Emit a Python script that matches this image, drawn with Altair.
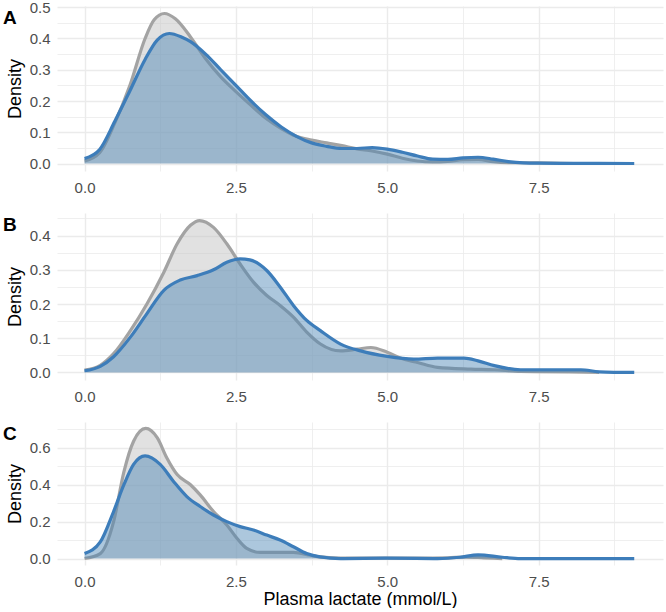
import altair as alt
import pandas as pd

X_LABEL = "Plasma lactate (mmol/L)"
Y_LABEL = "Density"
PANEL_LETTERS = ["A", "B", "C"]

X_TICKS = [0, 1.25, 2.5, 3.75, 5.0, 6.25, 7.5, 8.75]
X_DOMAIN = [-0.455, 9.555]

# Panel A
A_GRAY_X = [0, 0.25, 0.5, 0.75, 1.0, 1.15, 1.32, 1.5, 1.75, 2.0, 2.25, 2.5, 2.75, 3.0, 3.25, 3.5, 3.75, 4.0,
            4.25, 4.5, 4.75, 5.0, 5.25, 5.5, 5.75, 6.0, 6.25, 6.5, 6.75, 7.0, 7.5, 8.1]
A_GRAY_Y = [0.008, 0.035, 0.13, 0.25, 0.40, 0.46, 0.48, 0.463, 0.405, 0.335, 0.277, 0.23, 0.186, 0.144, 0.112,
            0.087, 0.075, 0.066, 0.057, 0.047, 0.04, 0.03, 0.017, 0.008, 0.005, 0.007, 0.012, 0.013, 0.006,
            0.003, 0.002, 0.0]
A_BLUE_X = [0, 0.25, 0.5, 0.75, 1.0, 1.2, 1.4, 1.6, 1.75, 2.0, 2.25, 2.5, 2.75, 3.0, 3.25, 3.5, 3.75, 4.0,
            4.25, 4.5, 4.75, 5.0, 5.25, 5.5, 5.75, 6.0, 6.25, 6.5, 6.75, 7.0, 7.25, 7.5, 8.0, 9.08]
A_BLUE_Y = [0.016, 0.045, 0.135, 0.233, 0.333, 0.395, 0.416, 0.405, 0.39, 0.35, 0.30, 0.25, 0.20, 0.155, 0.117,
            0.087, 0.066, 0.055, 0.048, 0.048, 0.051, 0.046, 0.036, 0.024, 0.014, 0.013, 0.018, 0.02, 0.014,
            0.006, 0.002, 0.001, 0.0005, 0.0]
A_Y_TICKS = [0, 0.05, 0.1, 0.15, 0.2, 0.25, 0.3, 0.35, 0.4, 0.45, 0.5]
A_Y_DOMAIN = [-0.024, 0.504]

# Panel B
B_GRAY_X = [0, 0.26, 0.48, 0.76, 1.03, 1.31, 1.53, 1.75, 1.9, 2.13, 2.35, 2.57, 2.79, 3.01, 3.23, 3.45, 3.67,
            3.89, 4.23, 4.5, 4.73, 5.0, 5.25, 5.5, 5.83, 6.38, 6.77, 7.2, 8.0, 8.5]
B_GRAY_Y = [0.007, 0.021, 0.055, 0.123, 0.20, 0.293, 0.376, 0.43, 0.444, 0.424, 0.376, 0.317, 0.264, 0.225,
            0.196, 0.162, 0.118, 0.084, 0.063, 0.068, 0.073, 0.059, 0.04, 0.029, 0.015, 0.01, 0.008, 0.003,
            0.002, 0.0]
B_BLUE_X = [0, 0.26, 0.48, 0.76, 1.03, 1.31, 1.58, 1.86, 2.13, 2.35, 2.57, 2.73, 3.01, 3.23, 3.45, 3.67, 3.89,
            4.23, 4.56, 5.0, 5.44, 5.83, 6.27, 6.5, 6.77, 7.2, 8.2, 8.5, 9.08]
B_BLUE_Y = [0.005, 0.018, 0.046, 0.104, 0.172, 0.24, 0.27, 0.283, 0.30, 0.322, 0.332, 0.329, 0.298, 0.25,
            0.196, 0.152, 0.123, 0.083, 0.063, 0.047, 0.039, 0.042, 0.042, 0.034, 0.02, 0.008, 0.008, 0.002, 0.0]
B_Y_TICKS = [0, 0.05, 0.1, 0.15, 0.2, 0.25, 0.3, 0.35, 0.4, 0.45]
B_Y_DOMAIN = [-0.022, 0.466]

# Panel C
C_GRAY_X = [0, 0.26, 0.48, 0.65, 0.81, 1.01, 1.2, 1.36, 1.53, 1.75, 1.91, 2.13, 2.35, 2.52, 2.68, 2.9, 3.23,
            3.45, 3.73, 3.89, 4.2, 5.0, 5.5, 6.0, 6.3, 6.6, 6.9]
C_GRAY_Y = [0.0, 0.027, 0.2, 0.47, 0.636, 0.705, 0.655, 0.545, 0.455, 0.40, 0.345, 0.255, 0.182, 0.109, 0.055,
            0.033, 0.033, 0.033, 0.018, 0.009, 0.003, 0.002, 0.002, 0.004, 0.008, 0.004, 0.0]
C_BLUE_X = [0, 0.26, 0.48, 0.65, 0.81, 1.0, 1.25, 1.47, 1.69, 1.91, 2.13, 2.35, 2.57, 2.79, 3.01, 3.23, 3.45,
            3.67, 3.89, 4.23, 5.0, 5.83, 6.2, 6.5, 6.9, 7.2, 9.08]
C_BLUE_Y = [0.027, 0.09, 0.255, 0.40, 0.51, 0.556, 0.51, 0.418, 0.336, 0.282, 0.236, 0.2, 0.173, 0.155, 0.127,
            0.1, 0.064, 0.027, 0.009, 0.0, 0.002, 0.0, 0.007, 0.02, 0.007, 0.0, 0.0]
C_Y_TICKS = [0, 0.1, 0.2, 0.3, 0.4, 0.5, 0.6, 0.7]
C_Y_DOMAIN = [-0.035, 0.74]

FONT = "Liberation Sans"
GRID = "#ebebeb"
GRAY_LINE = "#a3a3a3"
GRAY_FILL = "#c4c4c4"
BLUE_LINE = "#3d7dba"
BLUE_FILL = "#4682b4"

X_MAJOR = "abs(datum.value / 2.5 - round(datum.value / 2.5)) < 0.001"


def y_major(step):
    return f"abs(datum.value / {step} - round(datum.value / {step})) < 0.001"


def panel(letter, gx, gy, bx, by, ydom, yticks, ystep, height, last):
    gray = pd.DataFrame({"x": gx, "y": gy})
    blue = pd.DataFrame({"x": bx, "y": by})
    tag = pd.DataFrame({"letter": [letter]})
    xaxis = alt.Axis(
        values=X_TICKS,
        labelExpr=f"{X_MAJOR} ? format(datum.value, '.1f') : ''",
        gridWidth={"condition": {"test": X_MAJOR, "value": 1.4}, "value": 0.8},
        title=X_LABEL if last else "",
        labelPadding=9,
        titlePadding=1,
    )
    yaxis = alt.Axis(
        values=yticks,
        labelExpr=f"{y_major(ystep)} ? format(datum.value, '.1f') : ''",
        gridWidth={"condition": {"test": y_major(ystep), "value": 1.4}, "value": 0.8},
        title=Y_LABEL,
        labelPadding=7,
        titlePadding=5,
    )
    ex = alt.X("x:Q", scale=alt.Scale(domain=X_DOMAIN, nice=False, zero=False), axis=xaxis)
    ey = alt.Y("y:Q", scale=alt.Scale(domain=ydom, nice=False, zero=False), axis=yaxis)

    g = alt.Chart(gray).encode(x=ex, y=ey)
    b = alt.Chart(blue).encode(x=ex, y=ey)
    label = alt.Chart(tag).mark_text(
        align="left", baseline="top", fontSize=19, fontWeight="bold", font=FONT, color="black"
    ).encode(text="letter:N", x=alt.value(-54), y=alt.value(3))
    layers = [
        g.mark_area(color=GRAY_FILL, opacity=0.5, interpolate="monotone").encode(y2=alt.datum(0)),
        g.mark_line(color=GRAY_LINE, strokeWidth=3.2, interpolate="monotone"),
        b.mark_area(color=BLUE_FILL, opacity=0.45, interpolate="monotone").encode(y2=alt.datum(0)),
        b.mark_line(color=BLUE_LINE, strokeWidth=3.2, interpolate="monotone"),
        label,
    ]
    return alt.layer(*layers).properties(width=606, height=height)


pa = panel(PANEL_LETTERS[0], A_GRAY_X, A_GRAY_Y, A_BLUE_X, A_BLUE_Y, A_Y_DOMAIN, A_Y_TICKS, 0.1, 165, False)
pb = panel(PANEL_LETTERS[1], B_GRAY_X, B_GRAY_Y, B_BLUE_X, B_BLUE_Y, B_Y_DOMAIN, B_Y_TICKS, 0.1, 167, False)
pc = panel(PANEL_LETTERS[2], C_GRAY_X, C_GRAY_Y, C_BLUE_X, C_BLUE_Y, C_Y_DOMAIN, C_Y_TICKS, 0.2, 143, True)

chart = (
    alt.vconcat(pa, pb, pc, spacing=18)
    .properties(padding={"left": 3, "right": 3, "top": 0, "bottom": 0}, background="white")
    .configure_view(strokeOpacity=0)
    .configure_axis(
        labelFont=FONT, labelFontSize=15, labelColor="#4d4d4d",
        titleFont=FONT, titleFontSize=18, titleFontWeight="normal", titleColor="black",
        ticks=False, domain=False, gridColor=GRID,
    )
)

chart.save("out.html", embed_options={"renderer": "svg", "actions": False})
